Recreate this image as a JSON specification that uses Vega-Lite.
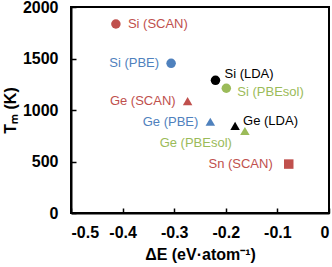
{
  "$schema": "https://vega.github.io/schema/vega-lite/v6.json",
  "width": 258,
  "height": 206,
  "autosize": {"type": "none"},
  "padding": {"left": 71, "top": 7, "right": 3, "bottom": 54},
  "config": {
    "view": {"stroke": "black", "strokeWidth": 2},
    "font": "Liberation Sans",
    "axis": {
      "grid": false,
      "domainColor": "black",
      "domainWidth": 2,
      "tickColor": "black",
      "tickWidth": 1.5,
      "tickSize": -5,
      "labelFont": "Liberation Sans",
      "labelFontSize": 16,
      "labelFontWeight": "bold",
      "labelColor": "black",
      "titleFont": "Liberation Sans",
      "titleFontSize": 16,
      "titleFontWeight": "bold",
      "titleColor": "black"
    }
  },
  "data": {
    "values": [
      {"label": "Si (SCAN)", "element": "Si", "functional": "SCAN", "dE": -0.413, "Tm": 1835},
      {"label": "Si (PBE)", "element": "Si", "functional": "PBE", "dE": -0.306, "Tm": 1453},
      {"label": "Si (LDA)", "element": "Si", "functional": "LDA", "dE": -0.220, "Tm": 1288},
      {"label": "Si (PBEsol)", "element": "Si", "functional": "PBEsol", "dE": -0.199, "Tm": 1211},
      {"label": "Ge (SCAN)", "element": "Ge", "functional": "SCAN", "dE": -0.274, "Tm": 1087},
      {"label": "Ge (PBE)", "element": "Ge", "functional": "PBE", "dE": -0.230, "Tm": 886},
      {"label": "Ge (LDA)", "element": "Ge", "functional": "LDA", "dE": -0.182, "Tm": 845},
      {"label": "Ge (PBEsol)", "element": "Ge", "functional": "PBEsol", "dE": -0.163, "Tm": 796},
      {"label": "Sn (SCAN)", "element": "Sn", "functional": "SCAN", "dE": -0.078, "Tm": 475}
    ]
  },
  "encoding": {
    "x": {
      "field": "dE", "type": "quantitative",
      "scale": {"domain": [-0.5, 0], "nice": false, "zero": false},
      "axis": {
        "values": [-0.5, -0.4, -0.3, -0.2, -0.1, 0],
        "labelExpr": "datum.value == 0 ? '0' : '-' + format(-datum.value, '.1f')",
        "labelPadding": 16,
        "title": "ΔE (eV·atom⁻¹)",
        "titlePadding": 6
      }
    },
    "y": {
      "field": "Tm", "type": "quantitative",
      "scale": {"domain": [0, 2000], "nice": false},
      "axis": {
        "values": [0, 500, 1000, 1500, 2000],
        "format": "d",
        "labelPadding": 18,
        "title": "Tₘ (K)",
        "titlePadding": 4
      }
    },
    "color": {
      "field": "functional", "type": "nominal",
      "scale": {"domain": ["SCAN", "PBE", "LDA", "PBEsol"], "range": ["#C0504D", "#4F81BD", "#000000", "#9BBB59"]},
      "legend": null
    }
  },
  "layer": [
    {
      "mark": {"type": "point", "filled": true, "opacity": 1, "size": 90},
      "encoding": {
        "shape": {
          "field": "element", "type": "nominal",
          "scale": {"domain": ["Si", "Ge", "Sn"], "range": ["circle", "triangle-up", "square"]},
          "legend": null
        }
      }
    },
    {
      "transform": [{"filter": {"field": "label", "oneOf": ["Si (PBE)", "Ge (SCAN)", "Ge (PBE)"]}}],
      "mark": {"type": "text", "align": "right", "baseline": "middle", "dx": -12, "fontSize": 13},
      "encoding": {"text": {"field": "label"}}
    },
    {
      "transform": [{"filter": {"field": "label", "equal": "Sn (SCAN)"}}],
      "mark": {"type": "text", "align": "right", "baseline": "middle", "dx": -16, "fontSize": 13},
      "encoding": {"text": {"field": "label"}}
    },
    {
      "transform": [{"filter": {"field": "label", "equal": "Ge (PBEsol)"}}],
      "mark": {"type": "text", "align": "right", "baseline": "middle", "dx": -13, "dy": 12, "fontSize": 13},
      "encoding": {"text": {"field": "label"}}
    },
    {
      "transform": [{"filter": {"field": "label", "equal": "Si (SCAN)"}}],
      "mark": {"type": "text", "align": "left", "baseline": "middle", "dx": 12, "fontSize": 13},
      "encoding": {"text": {"field": "label"}}
    },
    {
      "transform": [{"filter": {"field": "label", "equal": "Si (LDA)"}}],
      "mark": {"type": "text", "align": "left", "baseline": "middle", "dx": 9, "dy": -6, "fontSize": 13},
      "encoding": {"text": {"field": "label"}}
    },
    {
      "transform": [{"filter": {"field": "label", "equal": "Si (PBEsol)"}}],
      "mark": {"type": "text", "align": "left", "baseline": "middle", "dx": 11, "dy": 4, "fontSize": 13},
      "encoding": {"text": {"field": "label"}}
    },
    {
      "transform": [{"filter": {"field": "label", "equal": "Ge (LDA)"}}],
      "mark": {"type": "text", "align": "left", "baseline": "middle", "dx": 8, "dy": -5, "fontSize": 13},
      "encoding": {"text": {"field": "label"}}
    }
  ]
}
